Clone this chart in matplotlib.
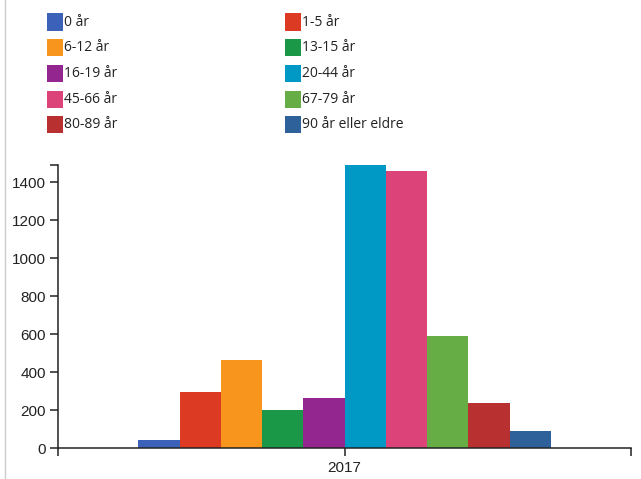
import matplotlib
matplotlib.use("Agg")
import matplotlib.pyplot as plt
from matplotlib.patches import Rectangle
from matplotlib.lines import Line2D

# age groups and counts for 2017
groups = ["0 år", "1-5 år", "6-12 år", "13-15 år", "16-19 år",
          "20-44 år", "45-66 år", "67-79 år", "80-89 år", "90 år eller eldre"]
counts = [44, 295, 463, 200, 266, 1490, 1460, 593, 240, 91]
colors = ["#3b62b8", "#dc3a22", "#f8951d", "#1b9748", "#93268f",
          "#0098c5", "#dc4378", "#66ad45", "#b8302f", "#2e6199"]
year_label = "2017"
yticks = [0, 200, 400, 600, 800, 1000, 1200, 1400]

W, H = 641, 479
fig = plt.figure(figsize=(W / 100, H / 100), dpi=100)

# page border line on the left
fig.add_artist(Line2D([4.5 / W, 4.5 / W], [0, 1], color="#cccccc", lw=1))

ax = fig.add_axes([58.3 / W, 1 - 448.3 / H, (631 - 58.3) / W, (448.3 - 165) / H])

n = len(counts)
band = 0.72 / n
for i, (v, c) in enumerate(zip(counts, colors)):
    x0 = -0.36 + i * band
    ax.bar(x0, v, width=band, align="edge", color=c, linewidth=0)

ax.set_xlim(-0.5, 0.5)
ax.set_ylim(0, max(counts))
for s in ["top", "right"]:
    ax.spines[s].set_visible(False)
for s in ["left", "bottom"]:
    ax.spines[s].set_color("#222222")
    ax.spines[s].set_linewidth(1.1)

ax.set_yticks(yticks + [max(counts)])
ax.set_yticklabels([str(t) for t in yticks] + [""])
ax.set_xticks([-0.5, 0, 0.5])
ax.set_xticklabels(["", year_label, ""])
ax.tick_params(axis="both", length=6, width=1.1, color="#222222",
               labelsize=11, labelcolor="#222222", pad=3)
for lab in ax.get_xticklabels() + ax.get_yticklabels():
    lab.set_family("Liberation Sans")

# legend, two columns, row-major order
col_x = [47, 285]
row_y0, row_step = 22, 25.7
for i, (g, c) in enumerate(zip(groups, colors)):
    r, k = divmod(i, 2)
    cx = col_x[k]
    cy = row_y0 + r * row_step
    fig.add_artist(Rectangle((cx / W, 1 - (cy + 8.5) / H), 16 / W, 17 / H,
                             transform=fig.transFigure, color=c, lw=0))
    fig.text((cx + 17) / W, 1 - cy / H, g, ha="left", va="center",
             fontsize=10, family="Open Sans", color="#222222")

fig.savefig("out.png", dpi=100)
